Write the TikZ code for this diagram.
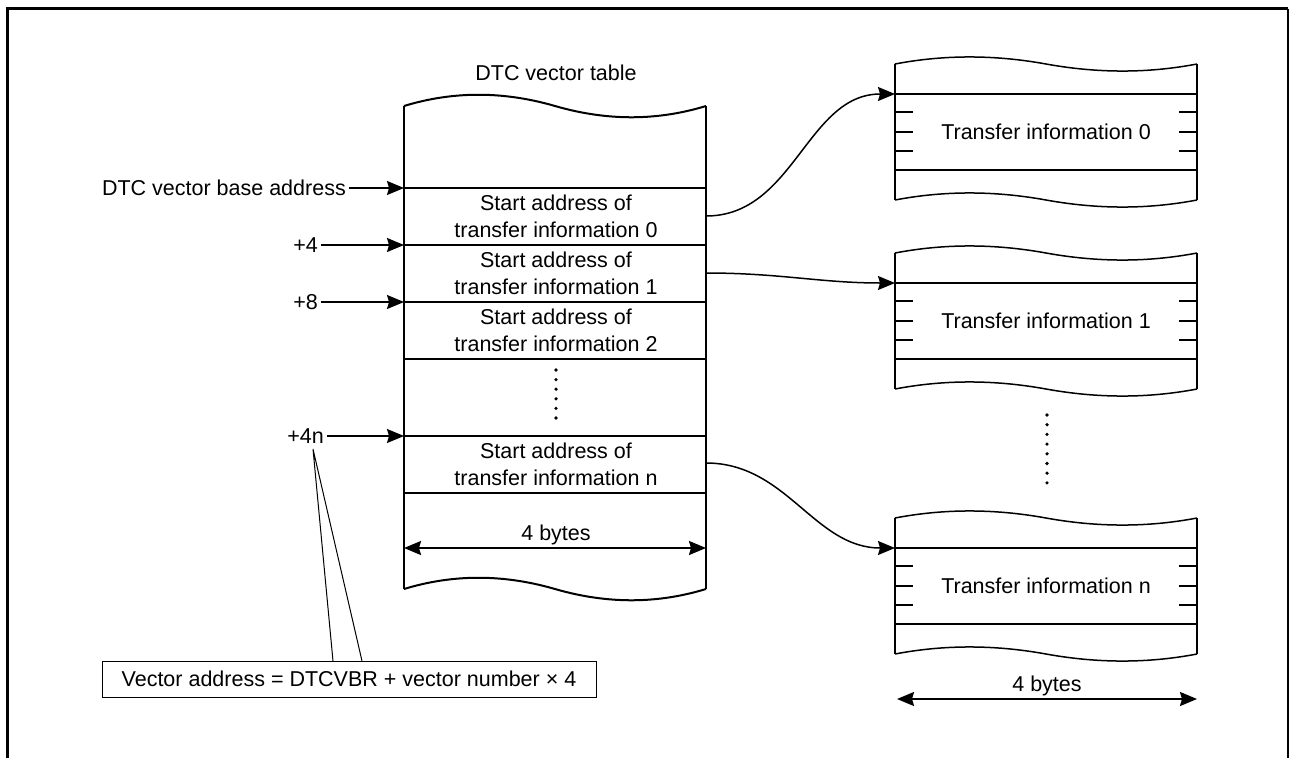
\documentclass[tikz,border=0pt]{standalone}
\usepackage{fontspec}
\setmainfont{Liberation Sans}
\usetikzlibrary{arrows.meta,calc}
\newcommand\wavepath[3]{(#1,#2) .. controls (#1+46,#2-1.17*#3) and (#1+96,#2-1.33*#3) .. (#1+151,#2) .. controls (#1+206,#2+1.33*#3) and (#1+256,#2+1.17*#3) .. (#1+302,#2)}
\tikzset{
  tbl/.style={line width=2pt},
  thn/.style={line width=1.5pt},
  hair/.style={line width=1pt},
  lbl/.style={font=\fontsize{21.5}{26}\selectfont, inner sep=3pt},
  cell/.style={font=\fontsize{21.5}{27}\selectfont, align=center, inner sep=0pt},
  tip/.tip={Stealth[length=17pt,width=14pt,inset=2pt]},
  arr/.style={line width=1.5pt, -tip},
  darr/.style={line width=2pt, tip-tip},
  dotc/.style={fill=black}
}
\newcommand\tbox[4]{% #1 line y, #2 name, #3 text, #4 entry coordinate
  \draw[thn] (895,#1-30) -- (895,#1+106);
  \draw[thn] (1197,#1-30) -- (1197,#1+106);
  \draw[thn] \wavepath{895}{#1-30}{7.5};
  \draw[thn] \wavepath{895}{#1+106}{7.5};
  \draw[thn] (895,#1) -- (1197,#1);
  \draw[thn] (895,#1+76) -- (1197,#1+76);
  \foreach \d in {18,38,57}{
    \draw[thn] (895,#1+\d) -- (913,#1+\d);
    \draw[thn] (1179,#1+\d) -- (1197,#1+\d);
  }
  \node[lbl] (#2) at (1046,#1+38) {#3};
  \coordinate (#4) at (895,#1);
}
\begin{document}
\begin{tikzpicture}[x=1pt,y=-1pt]
\useasboundingbox (0,0) rectangle (1290,758);
% frame
\draw[line width=3pt] (7.5,758) -- (7.5,8.5) -- (1288,8.5);
\draw[line width=2pt] (1288,8.5) -- (1288,758);

% DTC vector table
\node[lbl] (title) at (556,73) {DTC vector table};
\draw[tbl] (404,106) -- (404,589);
\draw[tbl] (706,106) -- (706,589);
\draw[tbl] \wavepath{404}{106}{12};
\draw[tbl] \wavepath{404}{589}{12};
\foreach \y in {188,245,302,359,436,493}{\draw[tbl] (404,\y) -- (706,\y);}
\node[cell] (e0) at (556,216) {Start address of\\transfer information 0};
\node[cell] (e1) at (556,273) {Start address of\\transfer information 1};
\node[cell] (e2) at (556,330) {Start address of\\transfer information 2};
\node[cell] (en) at (556,464) {Start address of\\transfer information n};
\foreach \y in {0,...,5}{\fill[dotc] (556,370+\y*9.6) circle (1.8pt);}
\node[lbl] (bytesA) at (556,535) {4 bytes};
\coordinate (bAl) at (404,548);
\coordinate (bAr) at (706,548);
\draw[darr] (bAl) -- (bAr);

% left pointers
\coordinate (p0) at (404,188);
\coordinate (p1) at (404,245);
\coordinate (p2) at (404,302);
\coordinate (pn) at (404,436);
\node[lbl, anchor=east] (base) at (349,188) {DTC vector base address};
\node[lbl, anchor=east] (plus4) at (321,245) {+4};
\node[lbl, anchor=east] (plus8) at (321,302) {+8};
\node[lbl, anchor=east] (plus4n) at (327,436) {+4n};
\draw[arr] (base.east) -- (p0);
\draw[arr] (plus4.east) -- (p1);
\draw[arr] (plus8.east) -- (p2);
\draw[arr] (plus4n.east) -- (pn);

% callout
\node[draw, hair, lbl, minimum width=494pt, minimum height=36pt, inner sep=0pt] (formula) at (349,679) {Vector address = DTCVBR + vector number × 4};
\coordinate (cp) at (313,449);
\coordinate (c1) at (333,661);
\coordinate (c2) at (362,661);
\draw[hair] (c1) -- (cp) -- (c2);

% transfer information boxes
\tbox{94}{t0}{Transfer information 0}{t0in}
\tbox{283}{t1}{Transfer information 1}{t1in}
\tbox{548}{tn}{Transfer information n}{tnin}
\foreach \y in {0,...,7}{\fill[dotc] (1047,415+\y*9.7) circle (1.8pt);}
\node[lbl] (bytesB) at (1047,686) {4 bytes};
\coordinate (bBl) at (897,699);
\coordinate (bBr) at (1197,699);
\draw[darr] (bBl) -- (bBr);

% connectors
\coordinate (e0r) at (706,216);
\coordinate (e1r) at (706,273);
\coordinate (enr) at (706,463);
\draw[arr] (e0r) to[out=0,in=180] (t0in);
\draw[arr] (e1r) to[out=0,in=180] (t1in);
\draw[arr] (enr) to[out=0,in=180] (tnin);
\end{tikzpicture}
\end{document}
